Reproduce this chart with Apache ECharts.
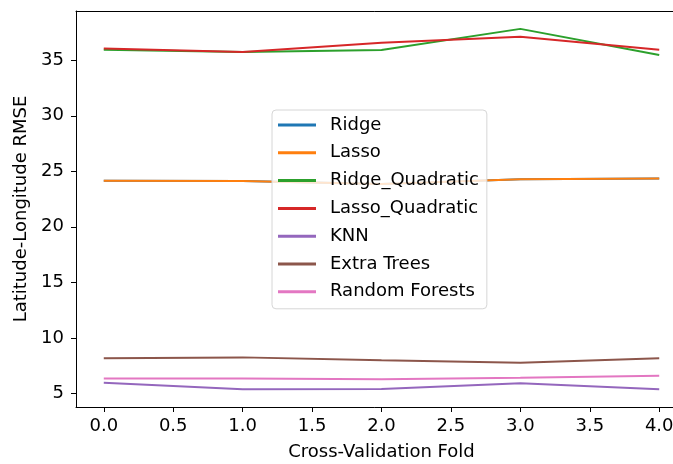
<!DOCTYPE html>
<html>
<head>
<meta charset="utf-8">
<script src="https://cdn.jsdelivr.net/npm/echarts@6/dist/echarts.min.js"></script>
<style>
html,body{margin:0;padding:0;background:#fff;}
#chart{width:673px;height:464px;}
</style>
</head>
<body>
<div id="chart"></div>
<script>
const folds = [0, 1, 2, 3, 4];
const seriesNames = ['Ridge', 'Lasso', 'Ridge_Quadratic', 'Lasso_Quadratic', 'KNN', 'Extra Trees', 'Random Forests'];
const ridge = [24.15, 24.12, 23.86, 24.28, 24.36];
const lasso = [24.15, 24.12, 23.86, 24.28, 24.36];
const ridgeQuadratic = [35.95, 35.74, 35.92, 37.83, 35.47];
const lassoQuadratic = [36.07, 35.75, 36.58, 37.12, 35.95];
const knn = [5.96, 5.37, 5.39, 5.9, 5.37];
const extraTrees = [8.15, 8.24, 7.98, 7.76, 8.15];
const randomForests = [6.33, 6.33, 6.27, 6.41, 6.58];
const xTicks = [0, 0.5, 1, 1.5, 2, 2.5, 3, 3.5, 4];
const yTicks = [5, 10, 15, 20, 25, 30, 35];
const colors = ['#1f77b4', '#ff7f0e', '#2ca02c', '#d62728', '#9467bd', '#8c564b', '#e377c2'];
const allValues = [ridge, lasso, ridgeQuadratic, lassoQuadratic, knn, extraTrees, randomForests];

const FONT = 'DejaVu Sans';
const FS = 18;

const chart = echarts.init(document.getElementById('chart'), null, {renderer: 'canvas'});
const series = seriesNames.map((name, i) => ({
  name: name,
  type: 'line',
  xAxisIndex: 0,
  data: folds.map((f, j) => [f, allValues[i][j]]),
  showSymbol: false,
  symbol: 'none',
  lineStyle: {color: colors[i], width: 2},
  itemStyle: {color: colors[i]},
  animation: false,
  z: 2
}));

chart.setOption({
  animation: false,
  backgroundColor: '#fff',
  grid: {left: 76, top: 11, width: 611, height: 396, outerBoundsMode: 'none', containLabel: false, show: false},
  xAxis: [{
    type: 'value', min: -0.2, max: 4.2, position: 'bottom',
    name: 'Cross-Validation Fold', nameLocation: 'middle', nameGap: 36,
    nameTextStyle: {fontFamily: FONT, fontSize: FS, color: '#000'},
    axisLine: {show: true, onZero: false, lineStyle: {color: '#000', width: 1}},
    axisTick: {show: true, length: 5, lineStyle: {color: '#000', width: 1}, customValues: xTicks},
    axisLabel: {fontFamily: FONT, fontSize: FS, color: '#000', margin: 10, customValues: xTicks, formatter: v => v.toFixed(1)},
    splitLine: {show: false}
  }, {
    type: 'value', min: -0.2, max: 4.2, position: 'top',
    axisLine: {show: true, onZero: false, lineStyle: {color: '#000', width: 1}},
    axisTick: {show: false}, axisLabel: {show: false}, splitLine: {show: false}
  }],
  yAxis: {
    type: 'value', min: 3.77, max: 39.44,
    name: 'Latitude-Longitude RMSE', nameLocation: 'middle', nameGap: 45,
    nameTextStyle: {fontFamily: FONT, fontSize: FS, color: '#000'},
    axisLine: {show: true, onZero: false, lineStyle: {color: '#000', width: 1}},
    axisTick: {show: true, length: 5, lineStyle: {color: '#000', width: 1}, customValues: yTicks},
    axisLabel: {fontFamily: FONT, fontSize: FS, color: '#000', margin: 12, customValues: yTicks},
    splitLine: {show: false}
  },
  legend: {
    data: seriesNames,
    orient: 'vertical',
    left: 272, top: 110,
    icon: 'rect',
    itemWidth: 38, itemHeight: 3,
    itemGap: 7.8,
    padding: [5, 8, 7, 6],
    backgroundColor: 'rgba(255,255,255,0.8)',
    borderColor: '#d6d6d6', borderWidth: 1, borderRadius: 4,
    textStyle: {fontFamily: FONT, fontSize: FS, color: '#000', lineHeight: 20, padding: [0, 0, 0, 9]},
    z: 10
  },
  series: series
});
</script>
</body>
</html>
